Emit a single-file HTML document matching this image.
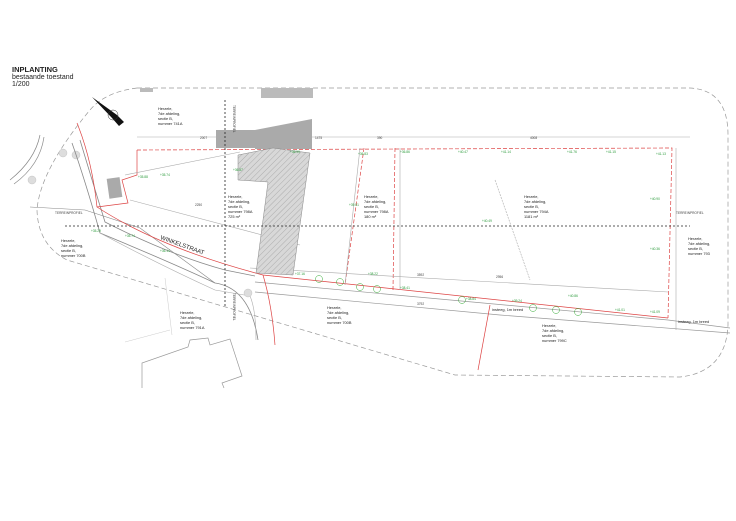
<!DOCTYPE html>
<html><head><meta charset="utf-8"><style>
html,body{margin:0;padding:0;background:#fff}
svg{display:block}
text{font-family:"Liberation Sans",sans-serif}
.t{font-size:3.9px;fill:#222}
.g{font-size:3.2px;fill:#2a9a3a}
.d{font-size:3.2px;fill:#444}
</style></head><body>
<svg width="736" height="521" viewBox="0 0 736 521" xmlns="http://www.w3.org/2000/svg">
<defs>
<pattern id="h" width="4" height="4" patternUnits="userSpaceOnUse" patternTransform="rotate(45)">
<rect width="4" height="4" fill="#d8d8d8"/><line x1="0" y1="0" x2="0" y2="4" stroke="#999" stroke-width="0.7"/></pattern>
</defs>
<text x="12" y="72" style="font-size:7.5px;font-weight:bold" fill="#222">INPLANTING</text>
<text x="12" y="79" style="font-size:7px" fill="#222">bestaande toestand</text>
<text x="12" y="86" style="font-size:7px" fill="#222">1/200</text>
<path d="M137,88 L690,88 Q728,90 728,135 L728,325 Q726,372 680,377 L455,375 L67,260" fill="none" stroke="#999" stroke-width="0.7" stroke-dasharray="5,3"/>
<path d="M137,88 Q105,92 90,110 Q40,170 37,210 Q38,245 67,260" fill="none" stroke="#999" stroke-width="0.7" stroke-dasharray="5,3"/>
<path d="M10,180 Q35,160 40,135 M14,184 Q40,165 44,137" fill="none" stroke="#888" stroke-width="0.7"/>
<circle cx="32" cy="180" r="4" fill="#ddd" stroke="#bbb" stroke-width="0.4"/>
<circle cx="63" cy="153" r="4" fill="#ddd" stroke="#bbb" stroke-width="0.4"/>
<circle cx="76" cy="155" r="4" fill="#ddd" stroke="#bbb" stroke-width="0.4"/>
<rect x="140" y="88" width="13" height="4" fill="#bbb"/>
<rect x="261" y="88" width="52" height="10" fill="#bbb"/>
<rect x="216" y="130" width="39" height="18" fill="#aaa"/>
<path d="M255,130 L312,119 L312,149 L255,149 Z" fill="#aaa"/>
<path d="M92,97 L117,115 L124,122 L119,126 L112,118 Z" fill="#111"/>
<circle cx="113" cy="115" r="5" fill="none" stroke="#333" stroke-width="0.5"/>
<path d="M72,143 Q85,180 100,233 Q170,262 215,283 Q250,288 258,340" fill="none" stroke="#888" stroke-width="0.8"/>
<path d="M80,140 Q92,180 105,222 Q170,255 225,270 L255,276" fill="none" stroke="#888" stroke-width="0.8"/>
<path d="M100,233 Q160,265 215,290 L250,296 Q256,310 256,340" fill="none" stroke="#aaa" stroke-width="0.6"/>
<path d="M30,207 L85,210 L140,228 L215,283" fill="none" stroke="#888" stroke-width="0.6"/>
<path d="M255,282 L668,320 L730,328 M255,292 L500,315 L730,333" fill="none" stroke="#999" stroke-width="0.7"/>
<circle cx="248" cy="293" r="4" fill="#ddd" stroke="#bbb" stroke-width="0.4"/>
<g fill="none" stroke="#d44" stroke-width="0.7">
<path d="M77,123 Q92,160 97,207 Q160,248 263,275 L668,318"/>
<path d="M137,150 L672,148 L668,318" stroke-dasharray="4,2"/>
<path d="M395,148 L393,290" stroke-dasharray="4,2"/>
<path d="M364,148 L345,285" stroke-dasharray="4,2"/>
<path d="M263,275 Q272,305 275,345"/>
<path d="M490,305 L478,370"/>
<path d="M137,150 L137,175 L122,180 L128,203 L97,207"/>
</g>
<rect x="108" y="178" width="13" height="20" fill="#aaa" transform="rotate(-8 114 188)"/>
<g stroke="#aaa" stroke-width="0.6" fill="none">
<path d="M130,200 L300,245"/>
<path d="M125,175 L240,152"/>
<path d="M137,137 L690,137"/>
<path d="M250,268 L668,292"/>
<path d="M495,180 L530,280" stroke-dasharray="2,1"/>
<path d="M345,285 L360,148"/>
<path d="M400,148 L400,290"/>
<path d="M676,148 L676,330"/>
</g>
<path d="M238,155 L273,148 L310,153 L293,275 L256,273 L268,182 L238,180 Z" fill="url(#h)" stroke="#888" stroke-width="0.5"/>
<path d="M65,226 L690,226" stroke="#222" stroke-width="0.8" stroke-dasharray="2,2"/>
<path d="M225,100 L225,308" stroke="#222" stroke-width="0.8" stroke-dasharray="2,2"/>
<text x="55" y="214" class="d">TERREINPROFIEL</text>
<text x="676" y="214" class="d">TERREINPROFIEL</text>
<text x="233" y="105" class="d" transform="rotate(90 233 105)">TERREINPROFIEL</text>
<text x="233" y="293" class="d" transform="rotate(90 233 293)">TERREINPROFIEL</text>
<text x="160" y="239" style="font-size:6px" fill="#222" transform="rotate(20 160 239)">WINKELSTRAAT</text>
<g fill="none" stroke="#3a3" stroke-width="0.5">
<circle cx="319" cy="279" r="3.5"/><circle cx="340" cy="282" r="3.5"/><circle cx="360" cy="287" r="3.5"/><circle cx="377" cy="289" r="3.5"/>
<circle cx="462" cy="300" r="3.5"/><circle cx="533" cy="308" r="3.5"/><circle cx="556" cy="310" r="3.5"/><circle cx="578" cy="312" r="3.5"/>
</g>
<g class="g">
<text x="233" y="171">+36.87</text><text x="138" y="178">+35.88</text><text x="160" y="176">+35.74</text>
<text x="290" y="153">+36.99</text><text x="358" y="155">+36.83</text><text x="400" y="153">+36.86</text>
<text x="458" y="153">+40.47</text><text x="501" y="153">+41.14</text><text x="567" y="153">+41.76</text><text x="606" y="153">+41.15</text><text x="656" y="155">+41.13</text>
<text x="650" y="200">+40.90</text><text x="482" y="222">+40.49</text><text x="650" y="250">+40.36</text>
<text x="349" y="206">+39.51</text><text x="91" y="232">+35.29</text><text x="125" y="237">+35.74</text><text x="160" y="252">+36.14</text>
<text x="295" y="275">+37.16</text><text x="368" y="275">+38.22</text><text x="400" y="289">+38.41</text><text x="466" y="300">+38.84</text>
<text x="512" y="302">+39.24</text><text x="568" y="297">+40.86</text><text x="615" y="311">+41.01</text><text x="650" y="313">+41.09</text>
</g>
<g class="t">
<text x="158" y="110">Herzele,</text><text x="158" y="115">7de afdeling,</text><text x="158" y="120">sectie B,</text><text x="158" y="125">nummer 741A</text>
<text x="228" y="198">Herzele,</text><text x="228" y="203">7de afdeling,</text><text x="228" y="208">sectie B,</text><text x="228" y="213">nummer 798A</text><text x="228" y="218">725 m²</text>
<text x="364" y="198">Herzele,</text><text x="364" y="203">7de afdeling,</text><text x="364" y="208">sectie B,</text><text x="364" y="213">nummer 798A</text><text x="364" y="218">180 m²</text>
<text x="524" y="198">Herzele,</text><text x="524" y="203">7de afdeling,</text><text x="524" y="208">sectie B,</text><text x="524" y="213">nummer 794A</text><text x="524" y="218">1181 m²</text>
<text x="688" y="240">Herzele,</text><text x="688" y="245">7de afdeling,</text><text x="688" y="250">sectie B,</text><text x="688" y="255">nummer 793</text>
<text x="61" y="242">Herzele,</text><text x="61" y="247">7de afdeling,</text><text x="61" y="252">sectie B,</text><text x="61" y="257">nummer 700B</text>
<text x="327" y="309">Herzele,</text><text x="327" y="314">7de afdeling,</text><text x="327" y="319">sectie B,</text><text x="327" y="324">nummer 700B</text>
<text x="180" y="314">Herzele,</text><text x="180" y="319">7de afdeling,</text><text x="180" y="324">sectie B,</text><text x="180" y="329">nummer 791A</text>
<text x="542" y="327">Herzele,</text><text x="542" y="332">7de afdeling,</text><text x="542" y="337">sectie B,</text><text x="542" y="342">nummer 799C</text>
<text x="492" y="311">insteeg, 1m breed</text><text x="678" y="323">insteeg, 1m breed</text>
</g>
<g class="d"><text x="200" y="139">2007</text><text x="315" y="139">1475</text><text x="377" y="139">390</text><text x="530" y="139">4008</text><text x="195" y="206">2250</text><text x="496" y="278">2956</text><text x="417" y="276">3592</text><text x="417" y="305">3792</text></g>
<path d="M142,388 L142,363 L188,347 L190,340 L208,338 L210,345 L230,339 L242,376 L222,383 L224,388" fill="none" stroke="#999" stroke-width="0.7"/>
<path d="M125,342 L170,330 M165,278 L172,335" fill="none" stroke="#ccc" stroke-width="0.5"/>
</svg>
</body></html>
